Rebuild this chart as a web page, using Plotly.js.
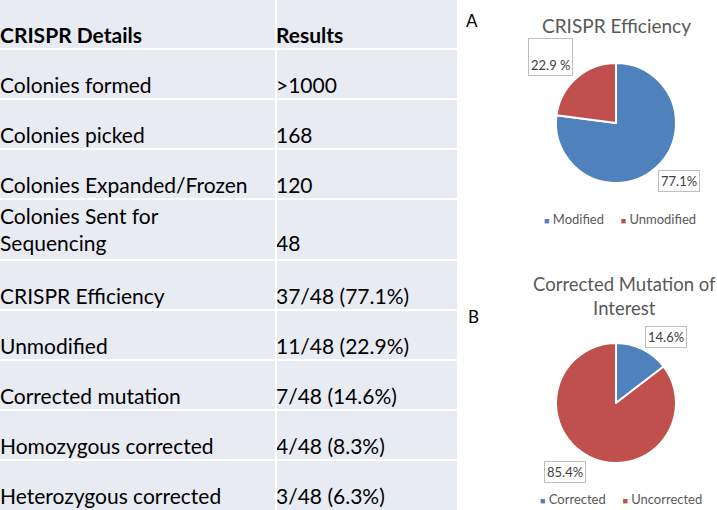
<!DOCTYPE html>
<html><head><meta charset="utf-8">
<script src="https://cdn.plot.ly/plotly-3.0.1.min.js"></script>
<style>html,body{margin:0;padding:0;background:#fff}#chart{width:717px;height:510px}</style>
</head><body><div id="chart"></div>
<script>
// ---- data ----
const tableHeaders = ['CRISPR Details', 'Results'];
const detailLabels = ['Colonies formed', 'Colonies picked', 'Colonies Expanded/Frozen',
  'Colonies Sent for<br>Sequencing', 'CRISPR Efficiency', 'Unmodified',
  'Corrected mutation', 'Homozygous corrected', 'Heterozygous corrected'];
const resultValues = ['>1000', '168', '120', '48', '37/48 (77.1%)', '11/48 (22.9%)',
  '7/48 (14.6%)', '4/48 (8.3%)', '3/48 (6.3%)'];

const effTitle = 'CRISPR Efficiency';
const effLabels = ['Modified', 'Unmodified'];
const effValues = [37, 11];
const effText = ['77.1%', '22.9 %'];

const mutTitle = 'Corrected Mutation of<br>Interest';
const mutLabels = ['Corrected', 'Uncorrected'];
const mutValues = [7, 41];
const mutText = ['14.6%', '85.4%'];

// ---- layout constants ----
const W = 717, H = 510, TABLE_W = 457, COL2_X = 276;
const rowHeights = [49, 50, 50, 50, 61, 50, 50, 50, 50, 50];
const FONT = 'Lato, "Open Sans", sans-serif';
const BLUE = '#4f81bd', RED = '#c0504d';
const TSIZE = 21, LH = 29, TXT_OFF = 11;

const bottoms = []; let acc = 0;
rowHeights.forEach(h => { acc += h; bottoms.push(acc); });
const nLines = s => s.split('<br>').length;

const common = { type: 'scatter', mode: 'text', textposition: 'middle right', hoverinfo: 'skip',
  showlegend: false, xaxis: 'x', yaxis: 'y', cliponaxis: false };

const headerTrace = Object.assign({}, common, {
  x: [0, COL2_X], y: [bottoms[0] - TXT_OFF, bottoms[0] - TXT_OFF], text: tableHeaders,
  textfont: { family: FONT, size: TSIZE, color: '#000', weight: 'bold' } });
const detailTrace = Object.assign({}, common, {
  x: detailLabels.map(() => 0),
  y: detailLabels.map((s, i) => bottoms[i + 1] - TXT_OFF - 2 - (nLines(s) - 1) * LH / 2),
  text: detailLabels, textfont: { family: FONT, size: TSIZE, color: '#000' } });
const resultTrace = Object.assign({}, common, {
  x: resultValues.map(() => COL2_X),
  y: resultValues.map((s, i) => bottoms[i + 1] - TXT_OFF - (nLines(detailLabels[i]) > 1 ? 3 : 0)),
  text: resultValues, textfont: { family: FONT, size: TSIZE, color: '#000' } });
detailTrace.y = detailTrace.y.map((v, i) => nLines(detailLabels[i]) > 1 ? v : v + 2);

function pie(labels, values, cy) {
  return { type: 'pie', labels: labels, values: values, sort: false, direction: 'clockwise',
    rotation: 0, textinfo: 'none', hoverinfo: 'label+value+percent', showlegend: false,
    marker: { colors: [BLUE, RED], line: { color: '#ffffff', width: 2 } },
    domain: { x: [556 / W, 676 / W], y: [(H - cy - 60) / H, (H - cy + 60) / H] } };
}

const shapes = [];
bottoms.slice(0, -1).forEach(b => shapes.push({ type: 'line', xref: 'x', yref: 'y',
  x0: 0, x1: TABLE_W, y0: b, y1: b, line: { color: '#ffffff', width: 2 } }));
shapes.push({ type: 'line', xref: 'x', yref: 'y', x0: COL2_X, x1: COL2_X, y0: 0, y1: H,
  line: { color: '#ffffff', width: 2 } });

const ann = [];
const P = (px, py) => ({ xref: 'paper', yref: 'paper', x: px / W, y: (H - py) / H,
  xanchor: 'center', yanchor: 'middle', showarrow: false });
const lab = (t, px, py, extra) => Object.assign(P(px, py), { text: t,
  font: { family: FONT, size: 13, color: '#404040' }, bgcolor: '#ffffff',
  bordercolor: '#bfbfbf', borderwidth: 1, borderpad: 2 }, extra || {});
const legendText = (labels) => labels.map((l, i) =>
  `<span style="color:${[BLUE, RED][i]};font-size:9px">■</span> ${l}`).join('     ');

ann.push(Object.assign(P(472, 21), { text: 'A', font: { family: FONT, size: 17, color: '#000' } }));
ann.push(Object.assign(P(473, 316), { text: 'B', font: { family: FONT, size: 17, color: '#000' } }));
ann.push(Object.assign(P(616, 25), { text: effTitle, font: { family: FONT, size: 19, color: '#595959' } }));
ann.push(Object.assign(P(624, 296), { text: mutTitle, font: { family: FONT, size: 18.5, color: '#595959' } }));
ann.push(lab(effText[1], 550.5, 57, { height: 32, valign: 'bottom' }));
ann.push(lab(effText[0], 679, 181));
ann.push(lab(mutText[0], 666, 337));
ann.push(lab(mutText[1], 564.5, 471.5));
ann.push(Object.assign(P(620, 219), { text: legendText(effLabels), font: { family: FONT, size: 13, color: '#595959' } }));
ann.push(Object.assign(P(621, 499), { text: legendText(mutLabels), font: { family: FONT, size: 13, color: '#595959' } }));

const hidden = { showgrid: false, zeroline: false, showticklabels: false, ticks: '', showline: false, fixedrange: true };
const layout = {
  width: W, height: H, margin: { l: 0, r: 0, t: 0, b: 0 },
  paper_bgcolor: '#ffffff', plot_bgcolor: '#e9ebf2',
  xaxis: Object.assign({ domain: [0, TABLE_W / W], range: [0, TABLE_W] }, hidden),
  yaxis: Object.assign({ domain: [0, 1], range: [H, 0] }, hidden),
  shapes: shapes, annotations: ann, showlegend: false
};

Plotly.newPlot('chart', [headerTrace, detailTrace, resultTrace,
  pie(effLabels, effValues, 123), pie(mutLabels, mutValues, 403)], layout,
  { displayModeBar: false, staticPlot: true });
</script></body></html>
